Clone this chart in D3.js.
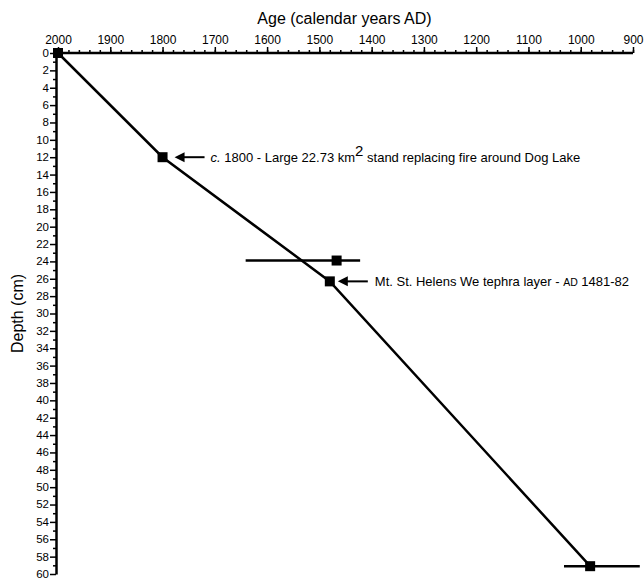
<!DOCTYPE html>
<html lang="en">
<head>
    <meta charset="UTF-8">
    <title>Age-depth model</title>
    <script src="https://d3js.org/d3.v7.min.js"></script>
    <style>
        body { margin: 0; background: #fff; }
        svg text { font-family: "Liberation Sans", Arial, sans-serif; fill: #000; }
        .axis path, .axis line { stroke: #000; }
        .axis .domain { stroke-width: 2.5; }
        .axis .tick line { stroke-width: 1.5; }
    </style>
</head>
<body>
    <svg id="chart" width="644" height="580"></svg>

    <script>
        // dated samples (age AD, depth cm)
        const sampleAges = [2000, 1800, 1467, 1480, 982];
        const sampleDepths = [0, 12, 23.9, 26.3, 59.1];
        // horizontal age uncertainty (null = none drawn)
        const errOld = [null, null, 1641, null, 1032];
        const errYoung = [null, null, 1422, null, 887];

        // age-depth model line
        const modelAges = [2000, 1800, 1480, 982];
        const modelDepths = [0, 12, 26.3, 59.1];

        const xMajorTicks = d3.range(2000, 899, -100);
        const xMinorTicks = d3.range(2000, 899, -20);
        const yMajorTicks = d3.range(0, 61, 2);
        const yMinorTicks = d3.range(1, 60, 2);

        let svg = d3.select("#chart");

        let x = d3.scaleLinear().domain([2000, 900]).range([58, 633]);
        let y = d3.scaleLinear().domain([0, 60]).range([53, 574]);

        // top axis: minor ticks, then major with labels
        svg.append("g")
            .attr("class", "axis")
            .attr("transform", "translate(0,53)")
            .call(d3.axisTop(x).tickValues(xMinorTicks).tickSize(3).tickFormat(""))
            .select(".domain").remove();
        svg.append("g")
            .attr("class", "axis")
            .attr("transform", "translate(0,53)")
            .call(d3.axisTop(x).tickValues(xMajorTicks).tickSize(6).tickSizeOuter(0).tickPadding(3).tickFormat(d3.format("d")))
            .call(g => g.select(".domain").attr("d", "M56,0H" + x(900)))
            .selectAll("text").attr("font-size", 12);

        // left axis
        svg.append("g")
            .attr("class", "axis")
            .attr("transform", "translate(56,0)")
            .call(d3.axisLeft(y).tickValues(yMinorTicks).tickSize(3).tickFormat(""))
            .select(".domain").remove();
        svg.append("g")
            .attr("class", "axis")
            .attr("transform", "translate(56,0)")
            .call(d3.axisLeft(y).tickValues(yMajorTicks).tickSize(6).tickSizeOuter(0).tickPadding(1).tickFormat(d3.format("d")))
            .selectAll("text").attr("font-size", 11.5).attr("dy", "0.3em");

        // axis titles
        svg.append("text")
            .attr("x", (56 + x(900)) / 2)
            .attr("y", 24)
            .attr("text-anchor", "middle")
            .attr("font-size", 16)
            .text("Age (calendar years AD)");

        svg.append("text")
            .attr("transform", "translate(23," + (y(0) + y(60)) / 2 + ") rotate(-90)")
            .attr("text-anchor", "middle")
            .attr("font-size", 16)
            .text("Depth (cm)");

        // model line
        let line = d3.line()
            .x((d, i) => x(modelAges[i]))
            .y((d, i) => y(modelDepths[i]));
        svg.append("path")
            .datum(modelAges)
            .attr("d", line)
            .attr("fill", "none")
            .attr("stroke", "#000")
            .attr("stroke-width", 2.5);

        // error bars
        sampleAges.forEach((a, i) => {
            if (errOld[i] === null) return;
            svg.append("line")
                .attr("x1", x(errOld[i]))
                .attr("x2", x(errYoung[i]))
                .attr("y1", y(sampleDepths[i]))
                .attr("y2", y(sampleDepths[i]))
                .attr("stroke", "#000")
                .attr("stroke-width", 2.5);
        });

        // markers
        svg.selectAll("rect.pt")
            .data(sampleAges)
            .enter()
            .append("rect")
            .attr("class", "pt")
            .attr("x", d => x(d) - 5)
            .attr("y", (d, i) => y(sampleDepths[i]) - 5)
            .attr("width", 10)
            .attr("height", 10)
            .attr("fill", "#000");

        // annotations with arrows
        function arrow(px, py) {
            svg.append("line")
                .attr("x1", px + 8).attr("x2", px + 30)
                .attr("y1", py).attr("y2", py)
                .attr("stroke", "#000").attr("stroke-width", 2);
            svg.append("path")
                .attr("d", `M${px},${py} L${px + 10},${py - 5} L${px + 10},${py + 5} Z`)
                .attr("fill", "#000");
        }

        let p1x = x(1800) + 12, p1y = y(12);
        arrow(p1x, p1y);
        let t1 = svg.append("text")
            .attr("x", p1x + 36)
            .attr("y", p1y + 5)
            .attr("font-size", 13);
        t1.append("tspan").attr("font-style", "italic").text("c.");
        t1.append("tspan").text(" 1800 - Large 22.73 km");
        t1.append("tspan").attr("dy", -6).attr("font-size", 15).text("2");
        t1.append("tspan").attr("dy", 6).text(" stand replacing fire around Dog Lake");

        let p2x = x(1480) + 8, p2y = y(26.3);
        arrow(p2x, p2y);
        let t2 = svg.append("text")
            .attr("x", p2x + 37)
            .attr("y", p2y + 5)
            .attr("font-size", 13);
        t2.append("tspan").text("Mt. St. Helens We tephra layer - ");
        t2.append("tspan").attr("font-size", 10.5).text("AD");
        t2.append("tspan").text(" 1481-82");
    </script>
</body>
</html>
